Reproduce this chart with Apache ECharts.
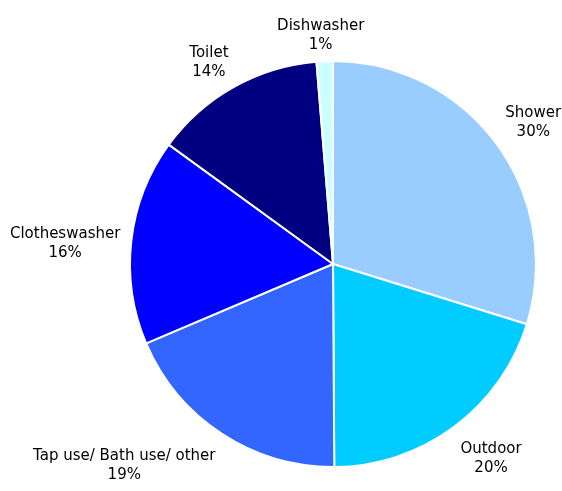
<!DOCTYPE html>
<html>
<head>
<meta charset="utf-8">
<script src="https://cdn.jsdelivr.net/npm/echarts@6/dist/echarts.min.js"></script>
<style>html,body{margin:0;padding:0;background:#fff;}#c{width:562px;height:491px;}</style>
</head>
<body>
<div id="c"></div>
<script>
const categories = ['Shower', 'Outdoor', 'Tap use/ Bath use/ other', 'Clotheswasher', 'Toilet', 'Dishwasher'];
const values = [29.8, 20.1, 18.7, 16.4, 13.7, 1.3];
const colors = ['#99CCFF', '#00CCFF', '#3366FF', '#0000FF', '#000080', '#CCFFFF'];

const CENTER = [333, 264];
const RADIUS = 203;
const total = values.reduce((a, b) => a + b, 0);
function midAngle(i) {
  let s = 0;
  for (let k = 0; k < i; k++) s += values[k];
  return ((s + values[i] / 2) / total) * 2 * Math.PI; // clockwise from top
}
const chart = echarts.init(document.getElementById('c'), null, { renderer: 'canvas' });
chart.setOption({
  animation: false,
  backgroundColor: '#fff',
  series: [{
    type: 'pie',
    center: CENTER,
    radius: RADIUS,
    startAngle: 90,
    clockwise: true,
    data: categories.map((n, i) => ({ name: n, value: values[i], itemStyle: { color: colors[i] } })),
    itemStyle: { borderColor: '#fff', borderWidth: 2 },
    label: {
      show: true,
      position: 'outside',
      alignTo: 'none',
      overflow: 'none',
      formatter: p => p.name + '\n' + Math.round(p.percent) + '%',
      fontFamily: 'DejaVu Sans, Verdana, sans-serif',
      fontSize: 15,
      lineHeight: 19,
      color: '#000',
      align: 'center'
    },
    labelLine: { show: false },
    labelLayout: function (params) {
      const a = midAngle(params.dataIndex);
      const dx = Math.sin(a), dy = -Math.cos(a);
      const gap = 11;
      const ax = CENTER[0] + dx * (RADIUS + gap);
      const ay = CENTER[1] + dy * (RADIUS + gap);
      const w = params.labelRect.width, h = params.labelRect.height;
      const cl = v => Math.max(-1, Math.min(1, v));
      const cx = ax + cl(dx * 2) * w / 2;
      const cy = ay + (Math.abs(dy) > 0.3 ? cl(dy * 2) : 0) * h / 2 + 4;
      return { x: cx, y: cy, align: 'center', verticalAlign: 'middle' };
    }
  }]
});
</script>
</body>
</html>
